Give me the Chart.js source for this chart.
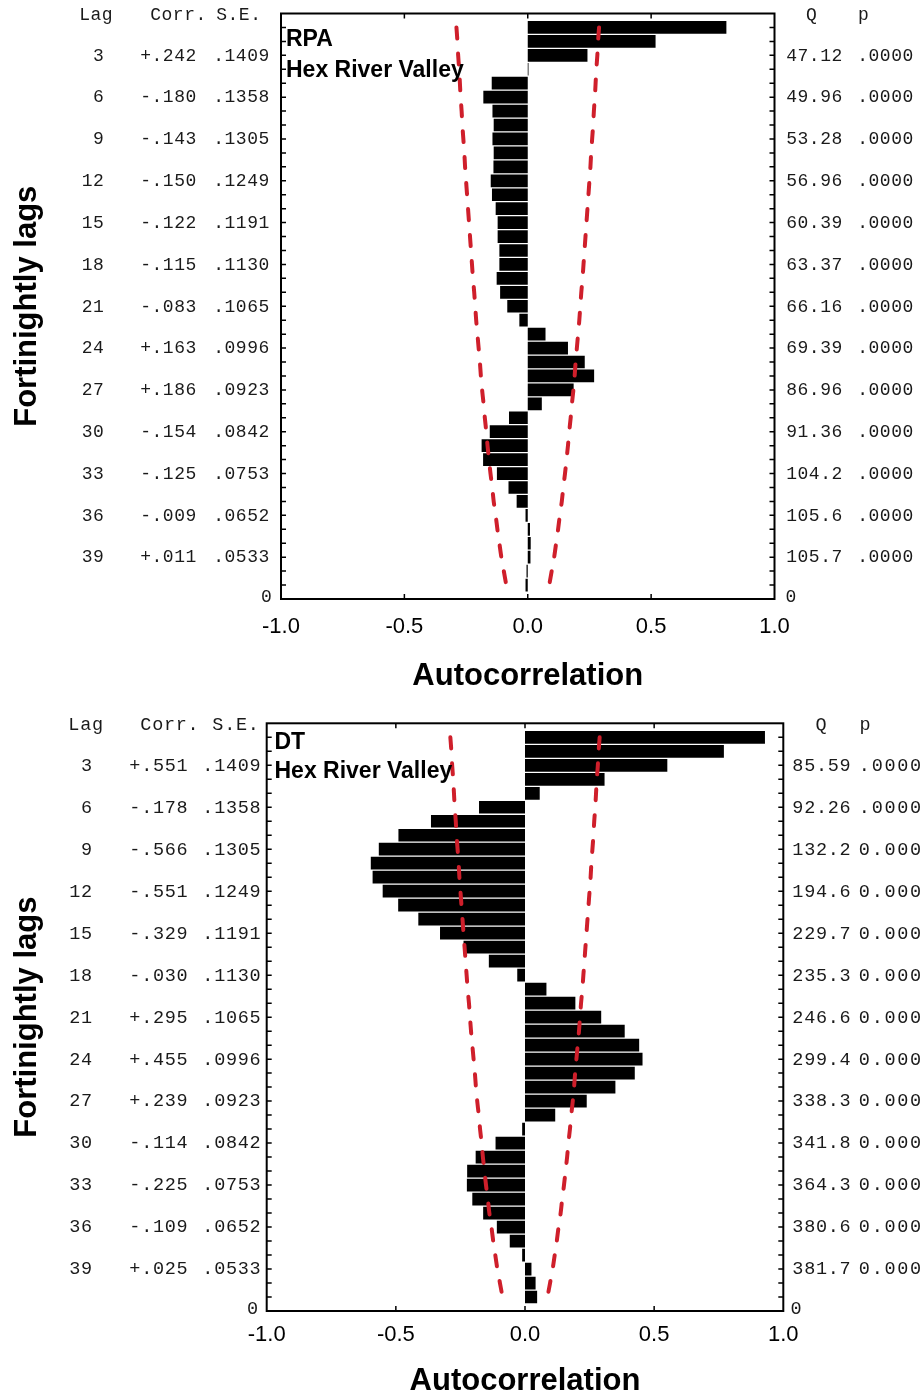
<!DOCTYPE html>
<html>
<head>
<meta charset="utf-8">
<script src="https://cdn.jsdelivr.net/npm/chart.js@4.4.1/dist/chart.umd.min.js"></script>
<style>
  html, body { margin: 0; padding: 0; background: #fff; }
  #wrap { position: relative; width: 924px; height: 1397px; }
  canvas { position: absolute; left: 0; }
  #topChart { top: 0; }
  #bottomChart { top: 700px; }
</style>
</head>
<body>
<div id="wrap">
  <canvas id="topChart" width="924" height="700"></canvas>
  <canvas id="bottomChart" width="924" height="697"></canvas>
</div>
<script>
// fortnightly lags 1..41
const lags = [1, 2, 3, 4, 5, 6, 7, 8, 9, 10, 11, 12, 13, 14, 15, 16, 17, 18, 19, 20,
  21, 22, 23, 24, 25, 26, 27, 28, 29, 30, 31, 32, 33, 34, 35, 36, 37, 38, 39, 40, 41];

// autocorrelation per lag, RPA
const rpaCorr = [0.805, 0.518, 0.242, 0.003, -0.146, -0.180, -0.143, -0.138, -0.143, -0.138,
  -0.139, -0.150, -0.145, -0.130, -0.122, -0.122, -0.115, -0.115, -0.126, -0.112,
  -0.083, -0.034, 0.072, 0.163, 0.231, 0.269, 0.186, 0.057, -0.076, -0.154,
  -0.187, -0.181, -0.125, -0.078, -0.045, -0.009, 0.009, 0.012, 0.011, -0.005, -0.009];

// autocorrelation per lag, DT
const dtCorr = [0.929, 0.770, 0.551, 0.308, 0.057, -0.178, -0.364, -0.490, -0.566, -0.597,
  -0.590, -0.551, -0.491, -0.413, -0.329, -0.238, -0.140, -0.030, 0.083, 0.195,
  0.295, 0.386, 0.442, 0.455, 0.425, 0.350, 0.239, 0.117, -0.011, -0.114,
  -0.191, -0.224, -0.225, -0.204, -0.162, -0.109, -0.059, -0.011, 0.025, 0.041, 0.047];

// confidence limit (about 2 x S.E.)
const confLimit = [0.289, 0.285, 0.282, 0.278, 0.275, 0.272, 0.268, 0.265, 0.261, 0.257,
  0.254, 0.250, 0.246, 0.242, 0.238, 0.234, 0.230, 0.226, 0.222, 0.217,
  0.213, 0.209, 0.204, 0.199, 0.194, 0.190, 0.185, 0.179, 0.174, 0.168,
  0.163, 0.157, 0.151, 0.144, 0.138, 0.130, 0.123, 0.115, 0.107, 0.097, 0.087];

// printed table rows
const tableLags = [3, 6, 9, 12, 15, 18, 21, 24, 27, 30, 33, 36, 39];
const seText = ['.1409', '.1358', '.1305', '.1249', '.1191', '.1130', '.1065', '.0996', '.0923', '.0842', '.0753', '.0652', '.0533'];
const rpaCorrText = ['+.242', '-.180', '-.143', '-.150', '-.122', '-.115', '-.083', '+.163', '+.186', '-.154', '-.125', '-.009', '+.011'];
const rpaQText = ['47.12', '49.96', '53.28', '56.96', '60.39', '63.37', '66.16', '69.39', '86.96', '91.36', '104.2', '105.6', '105.7'];
const rpaPText = ['.0000', '.0000', '.0000', '.0000', '.0000', '.0000', '.0000', '.0000', '.0000', '.0000', '.0000', '.0000', '.0000'];
const dtCorrText = ['+.551', '-.178', '-.566', '-.551', '-.329', '-.030', '+.295', '+.455', '+.239', '-.114', '-.225', '-.109', '+.025'];
const dtQText = ['85.59', '92.26', '132.2', '194.6', '229.7', '235.3', '246.6', '299.4', '338.3', '341.8', '364.3', '380.6', '381.7'];
const dtPText = ['.0000', '.0000', '0.000', '0.000', '0.000', '0.000', '0.000', '0.000', '0.000', '0.000', '0.000', '0.000', '0.000'];

const xTicks = [-1, -0.5, 0, 0.5, 1];

Chart.defaults.font.family = '"Liberation Sans", Arial, sans-serif';
Chart.defaults.color = '#000';

const MONO = '"Liberation Mono", "DejaVu Sans Mono", monospace';
const RED = '#cf1f2b';

// draw a string one char at a time on a fixed pitch
function drawMono(ctx, text, x, y, pitch, align) {
    const start = align === 'right' ? x - text.length * pitch : x;
    ctx.textAlign = 'center';
    for (let i = 0; i < text.length; i++) {
        ctx.fillText(text[i], start + (i + 0.5) * pitch, y);
    }
}

function panelPlugin(p) {
    return {
        id: 'panelDecor',
        afterDatasetsDraw(chart) {
            const ctx = chart.ctx;
            const a = chart.chartArea;
            const xs = chart.scales.x;
            const ys = chart.scales.y;
            ctx.save();

            // frame
            ctx.strokeStyle = '#000';
            ctx.lineWidth = 2;
            ctx.strokeRect(a.left, a.top, a.right - a.left, a.bottom - a.top);

            // inward ticks
            ctx.lineWidth = 1.5;
            ctx.beginPath();
            for (let lag = 1; lag <= 41; lag++) {
                const py = ys.getPixelForValue(lag);
                ctx.moveTo(a.left, py); ctx.lineTo(a.left + 5, py);
                ctx.moveTo(a.right - 5, py); ctx.lineTo(a.right, py);
            }
            xTicks.slice(1, -1).forEach(v => {
                const px = xs.getPixelForValue(v);
                ctx.moveTo(px, a.top); ctx.lineTo(px, a.top + 5);
                ctx.moveTo(px, a.bottom); ctx.lineTo(px, a.bottom - 5);
            });
            ctx.stroke();

            // tables
            ctx.fillStyle = '#1a1a1a';
            ctx.font = p.monoSize + 'px ' + MONO;
            ctx.textBaseline = 'middle';
            const headY = ys.getPixelForValue(0) + 1.5;
            drawMono(ctx, 'Lag', p.head.lag, headY, p.pitch, 'left');
            drawMono(ctx, 'Corr.', p.head.corr, headY, p.pitch, 'left');
            drawMono(ctx, 'S.E.', p.head.se, headY, p.pitch, 'left');
            drawMono(ctx, 'Q', p.head.q - p.pitch / 2, headY, p.pitch, 'left');
            drawMono(ctx, 'p', p.head.p - p.pitch / 2, headY, p.pitch, 'left');

            tableLags.forEach((lag, i) => {
                const py = ys.getPixelForValue(lag) + 0.5;
                drawMono(ctx, String(lag), p.col.lagRight, py, p.pitch, 'right');
                drawMono(ctx, p.corrText[i], p.col.corr, py, p.pitch, 'left');
                drawMono(ctx, seText[i], p.col.se, py, p.pitch, 'left');
                drawMono(ctx, p.qText[i], p.col.q, py, p.pitch, 'left');
                drawMono(ctx, p.pText[i], p.col.p, py, p.pPitch, 'left');
            });

            const zeroY = ys.getPixelForValue(42) - 2;
            ctx.textAlign = 'center';
            ctx.fillText('0', p.zeroLeft, zeroY);
            ctx.fillText('0', p.zeroRight, zeroY);

            // series / site label inside the plot
            ctx.fillStyle = '#000';
            ctx.font = 'bold 23px "Liberation Sans", Arial, sans-serif';
            ctx.textAlign = 'left';
            ctx.fillText(p.name, p.labelX, p.labelY1);
            ctx.fillText('Hex River Valley', p.labelX, p.labelY2);

            ctx.restore();
        }
    };
}

function makeChart(canvasId, corr, p) {
    const bars = lags.map((lag, i) => ({ x: corr[i], y: lag }));
    const upper = lags.map((lag, i) => ({ x: confLimit[i], y: lag }));
    const lower = lags.map((lag, i) => ({ x: -confLimit[i], y: lag }));
    const dashed = {
        type: 'line',
        borderColor: RED,
        borderWidth: 4,
        borderDash: [11, 15],
        borderCapStyle: 'round',
        pointRadius: 0,
        fill: false,
        tension: 0.3,
        order: 1
    };

    return new Chart(document.getElementById(canvasId), {
        type: 'bar',
        data: {
            datasets: [
                {
                    data: bars,
                    backgroundColor: '#000',
                    borderWidth: 0,
                    barPercentage: 0.91,
                    categoryPercentage: 1,
                    order: 2
                },
                Object.assign({ data: upper }, dashed),
                Object.assign({ data: lower }, dashed)
            ]
        },
        options: {
            indexAxis: 'y',
            responsive: false,
            animation: false,
            devicePixelRatio: 1,
            layout: { padding: { top: p.padTop, right: p.padRight, left: 0, bottom: 0 } },
            plugins: { legend: { display: false }, tooltip: { enabled: false } },
            scales: {
                x: {
                    type: 'linear',
                    min: -1,
                    max: 1,
                    grid: { display: false, drawTicks: false },
                    border: { display: false },
                    ticks: {
                        stepSize: 0.5,
                        maxRotation: 0,
                        padding: p.tickPad,
                        font: { size: 22 },
                        color: '#000',
                        callback: v => v.toFixed(1)
                    },
                    title: {
                        display: true,
                        text: 'Autocorrelation',
                        font: { size: 31, weight: 'bold', lineHeight: 1 },
                        padding: { top: 0, bottom: p.titlePad },
                        color: '#000'
                    },
                    afterFit: s => { s.height = p.xHeight; }
                },
                y: {
                    type: 'linear',
                    min: 0,
                    max: 42,
                    offset: false,
                    reverse: true,
                    grid: { display: false, drawTicks: false },
                    border: { display: false },
                    ticks: { display: false },
                    title: {
                        display: true,
                        text: 'Fortinightly lags',
                        font: { size: 31, weight: 'bold', lineHeight: 1 },
                        padding: { top: 12, bottom: 0 },
                        color: '#000'
                    },
                    afterFit: s => { s.width = p.yWidth; }
                }
            }
        },
        plugins: [panelPlugin(p)]
    });
}

makeChart('topChart', rpaCorr, {
    yWidth: 281, padTop: 13.5, padRight: 149.5, xHeight: 101, tickPad: 15, titlePad: 8.5,
    monoSize: 18, pitch: 11.3, pPitch: 11.3,
    head: { lag: 79, corr: 150, se: 216, q: 811.5, p: 863.5 },
    col: { lagRight: 104, corr: 140, se: 213, q: 786, p: 857 },
    corrText: rpaCorrText, qText: rpaQText, pText: rpaPText,
    zeroLeft: 266.5, zeroRight: 791,
    name: 'RPA', labelX: 286, labelY1: 40, labelY2: 71
});

makeChart('bottomChart', dtCorr, {
    yWidth: 266.7, padTop: 23.3, padRight: 140.7, xHeight: 86, tickPad: 10.5, titlePad: 0,
    monoSize: 18.5, pitch: 11.8, pPitch: 12.8,
    head: { lag: 68, corr: 140, se: 212, q: 821, p: 865 },
    col: { lagRight: 92.5, corr: 129, se: 202, q: 792, p: 858 },
    corrText: dtCorrText, qText: dtQText, pText: dtPText,
    zeroLeft: 252.5, zeroRight: 796,
    name: 'DT', labelX: 274.5, labelY1: 43, labelY2: 72
});
</script>
</body>
</html>
